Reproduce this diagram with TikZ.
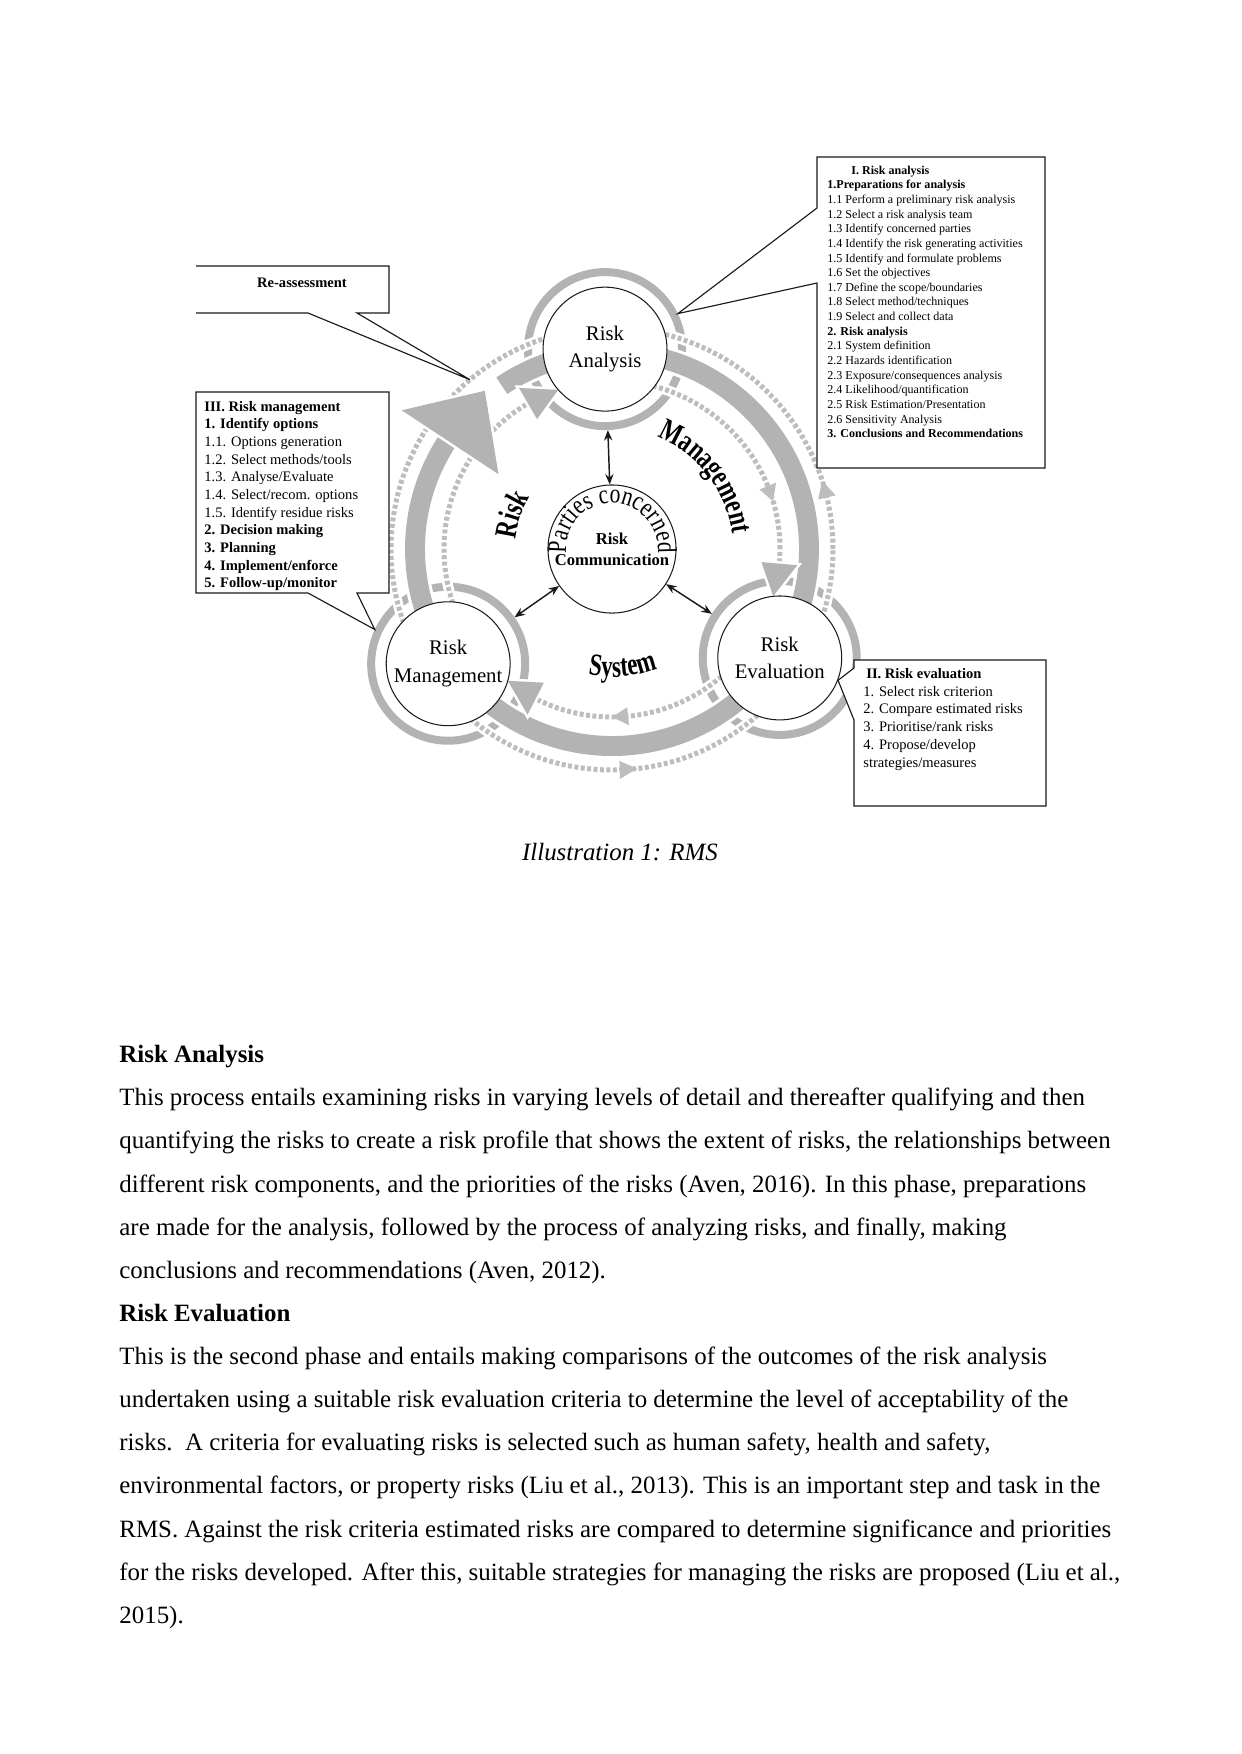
\documentclass[tikz,border=0pt]{standalone}
\usepackage{fontspec}
\setmainfont{Liberation Serif}
\newfontfamily\curvefont[FakeStretch=0.8]{Liberation Serif}
\newfontfamily\curveboldfont[FakeStretch=0.74]{Liberation Serif Bold}
\usetikzlibrary{arrows.meta,decorations.text,calc}
\definecolor{ink}{HTML}{1A1A1A}
\definecolor{band}{HTML}{B3B3B3}
\definecolor{dots}{HTML}{BDBDBD}
\tikzset{
  disk/.style={circle, draw=ink, line width=0.5pt, fill=white, minimum size=59.7pt, inner sep=0pt, align=center, font=\fontsize{10}{13.4}\selectfont},
  ringnode/.style={circle, draw=band, line width=3.85pt, minimum size=74.2pt, inner sep=0pt},
  bandarc/.style={draw=band, line width=9.6pt, preaction={draw=white, line width=12.5pt}},
  dotline/.style={draw=dots, line width=2.4pt, dash pattern=on 1.9pt off 1.2pt, preaction={draw=white, line width=5pt, solid}},
  headfill/.style={fill=band, preaction={draw=white, line width=2.4pt}},
  curved/.style={decorate, decoration={text along path, text align=center, text={#1}}},
  biarrow/.style={{Stealth[length=5pt,width=4pt]}-{Stealth[length=5pt,width=4pt]}, line width=0.7pt, draw=ink},
  callout/.style={draw=ink, line width=0.55pt, fill=white},
  boxline/.style={anchor=base west, inner sep=0pt},
  bodyline/.style={anchor=base west, inner sep=0pt, font=\fontsize{12}{14}\selectfont}
}
\begin{document}
\begin{tikzpicture}[x=0.16933mm, y=0.16933mm]
\fill[white] (0,0) rectangle (1241,-1754);
\useasboundingbox (0,0) rectangle (1241,-1754);
% cycle diagram, centred on the system circle
\begin{scope}[shift={(612,-549)}]
\node[ringnode] (raring) at (92:200) {};
\node[ringnode] (rmring) at (215:200) {};
\node[ringnode] (rering) at (327:200) {};
\draw[bandarc] (92:197) arc[start angle=92, end angle=-33, radius=197];
\draw[bandarc] (-33:197) arc[start angle=-33, end angle=-145, radius=197];
\draw[bandarc] (215:197) arc[start angle=215, end angle=146.6, radius=197];
\draw[bandarc] (124:197) arc[start angle=124, end angle=92, radius=197];
\draw[dotline] (0,0) circle[radius=221];
\draw[dotline] (0,0) circle[radius=168];
\fill[dots] (13.5:212) -- (18:221) -- (13.5:230) -- cycle;
\fill[dots] (-88:212) -- (-83.5:221) -- (-88:230) -- cycle;
\fill[dots] (22:159) -- (16.5:168) -- (22:177) -- cycle;
\fill[dots] (-84.5:159) -- (-90:168) -- (-84.5:177) -- cycle;
\foreach \a in {92,215,327}
  \fill[headfill] ({\a+28}:150) -- ({\a+16.7}:168) -- ({\a+28}:186) -- cycle;
\fill[headfill] (146.6:136) -- (128.8:203) -- (146.6:252) -- cycle;
\node[disk] (ra) at (92:200) {Risk\\Analysis};
\node[disk] (rm) at (215:200) {Risk\\Management};
\node[disk] (re) at (327:200) {Risk\\Evaluation};
\node[disk, minimum size=61.7pt, font=\bfseries\fontsize{8}{10}\selectfont] (cc) at (0,0) {Risk\\Communication};
\path[curved={|\curvefont\fontsize{13}{13}\selectfont|Parties concerned}] (182:46) arc[start angle=182, end angle=-2, radius=46];
\path[curved={|\curveboldfont\fontsize{15}{15}\selectfont|Risk}] (200:97) arc[start angle=200, end angle=122, radius=97];
\path[curved={|\curveboldfont\fontsize{15}{15}\selectfont|Management}] (85:121) arc[start angle=85, end angle=-10, radius=121];
\path[curved={|\curveboldfont\fontsize{15}{15}\selectfont|System}] (-130:128) arc[start angle=-130, end angle=-40, radius=128];
\draw[biarrow] (cc) -- (raring);
\draw[biarrow] (cc) -- (rmring);
\draw[biarrow] (cc) -- (rering);
\coordinate (reass) at (130:221);
\end{scope}
% callout boxes
\draw[callout] (817,-157) -- (1045,-157) -- (1045,-468) -- (817,-468) -- (817,-283) -- (raring.26) -- (817,-208) -- cycle;
\draw[callout] (854,-660) -- (1046,-660) -- (1046,-806) -- (854,-806) -- (854,-720) -- (re.-21) -- (854,-668) -- cycle;
\draw[callout] (196,-392) -- (389,-392) -- (389,-593) -- (357,-593) -- (rmring.155) -- (308,-593) -- (196,-593) -- cycle;
\draw[callout] (196,-266) -- (389,-266) -- (389,-313) -- (357,-313) -- (reass) -- (308,-313) -- (196,-313);
\node[font=\bfseries\fontsize{7}{8}\selectfont] (reat) at (302,-283) {Re-assessment};
\node[boxline, font=\bfseries\fontsize{5.8}{7}\selectfont] (antitle) at (851,-174.2) {I. Risk analysis};
\foreach \t [count=\i] in {{\textbf{1.Preparations for analysis}},{1.1 Perform a preliminary risk analysis},
  {1.2 Select a risk analysis team},{1.3 Identify concerned parties},{1.4 Identify the risk generating activities},
  {1.5 Identify and formulate problems},{1.6 Set the objectives},{1.7 Define the scope/boundaries},
  {1.8 Select method/techniques},{1.9 Select and collect data},{\textbf{2. Risk analysis}},
  {2.1 System definition},{2.2 Hazards identification},{2.3 Exposure/consequences analysis},
  {2.4 Likelihood/quantification},{2.5 Risk Estimation/Presentation},{2.6 Sensitivity Analysis},
  {\textbf{3. Conclusions and Recommendations}}}
  \node[boxline, font=\fontsize{5.8}{7}\selectfont] (an\i) at (827,{-174.2-14.64*\i}) {\t};
\foreach \t [count=\i from 0] in {{\textbf{III. Risk management}},{\textbf{1. Identify options}},
  {1.1. Options generation},{1.2. Select methods/tools},{1.3. Analyse/Evaluate},{1.4. Select/recom. options},
  {1.5. Identify residue risks},{\textbf{2. Decision making}},{\textbf{3. Planning}},
  {\textbf{4. Implement/enforce}},{\textbf{5. Follow-up/monitor}}}
  \node[boxline, font=\fontsize{7}{8}\selectfont] (mg\i) at (204,{-411-17.67*\i}) {\t};
\node[boxline, font=\bfseries\fontsize{7}{8}\selectfont] (evtitle) at (866,-678.3) {II. Risk evaluation};
\foreach \t [count=\i] in {{1. Select risk criterion},{2. Compare estimated risks},{3. Prioritise/rank risks},
  {4. Propose/develop},{strategies/measures}}
  \node[boxline, font=\fontsize{7}{8}\selectfont] (ev\i) at (863,{-678.3-17.8*\i}) {\t};
% caption and text
\node[anchor=base, inner sep=0pt, font=\itshape\fontsize{12}{14}\selectfont] (cap) at (620,-860) {Illustration 1: RMS};
\node[bodyline, font=\bfseries\fontsize{12}{14}\selectfont] (t1) at (119,-1062.7) {Risk Analysis};
\node[bodyline] (t2) at (119,-1105.8) {This process entails examining risks in varying levels of detail and thereafter qualifying and then};
\node[bodyline] (t3) at (119,-1148.9) {quantifying the risks to create a risk profile that shows the extent of risks, the relationships between};
\node[bodyline] (t4) at (119,-1192.1) {different risk components, and the priorities of the risks (Aven, 2016). In this phase, preparations};
\node[bodyline] (t5) at (119,-1235.2) {are made for the analysis, followed by the process of analyzing risks, and finally, making};
\node[bodyline] (t6) at (119,-1278.3) {conclusions and recommendations (Aven, 2012).};
\node[bodyline, font=\bfseries\fontsize{12}{14}\selectfont] (t7) at (119,-1321.4) {Risk Evaluation};
\node[bodyline] (t8) at (119,-1364.5) {This is the second phase and entails making comparisons of the outcomes of the risk analysis};
\node[bodyline] (t9) at (119,-1407.7) {undertaken using a suitable risk evaluation criteria to determine the level of acceptability of the};
\node[bodyline] (t10) at (119,-1450.8) {risks.\ \ A criteria for evaluating risks is selected such as human safety, health and safety,};
\node[bodyline] (t11) at (119,-1493.9) {environmental factors, or property risks (Liu et al., 2013). This is an important step and task in the};
\node[bodyline] (t12) at (119,-1537.0) {RMS. Against the risk criteria estimated risks are compared to determine significance and priorities};
\node[bodyline] (t13) at (119,-1580.1) {for the risks developed. After this, suitable strategies for managing the risks are proposed (Liu et al.,};
\node[bodyline] (t14) at (119,-1623.3) {2015).};
\end{tikzpicture}
\end{document}
